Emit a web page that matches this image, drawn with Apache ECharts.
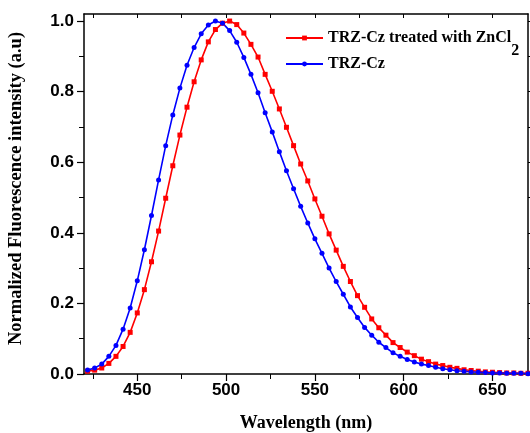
<!DOCTYPE html>
<html>
<head>
<meta charset="utf-8">
<script src="https://cdn.jsdelivr.net/npm/echarts@6/dist/echarts.min.js"></script>
<style>html,body{margin:0;padding:0;background:#fff}#c{width:530px;height:433px}</style>
</head>
<body>
<div id="c"></div>
<script>
const wavelength = [422,426,430,434,438,442,446,450,454,458,462,466,470,474,478,482,486,490,494,498,502,506,510,514,518,522,526,530,534,538,542,546,550,554,558,562,566,570,574,578,582,586,590,594,598,602,606,610,614,618,622,626,630,634,638,642,646,650,654,658,662,666,670];
const znValues = [0.008,0.011,0.017,0.030,0.050,0.078,0.118,0.173,0.239,0.318,0.405,0.498,0.590,0.677,0.756,0.828,0.890,0.941,0.976,0.994,1.000,0.990,0.966,0.934,0.898,0.849,0.801,0.751,0.699,0.647,0.595,0.547,0.496,0.447,0.397,0.351,0.305,0.262,0.222,0.189,0.156,0.131,0.110,0.089,0.075,0.062,0.052,0.042,0.035,0.028,0.024,0.019,0.016,0.012,0.010,0.008,0.006,0.005,0.004,0.003,0.003,0.002,0.002];
const czValues = [0.011,0.017,0.028,0.050,0.081,0.127,0.187,0.264,0.352,0.449,0.550,0.647,0.734,0.810,0.875,0.925,0.964,0.989,1.000,0.994,0.973,0.940,0.897,0.849,0.797,0.740,0.686,0.630,0.576,0.525,0.475,0.428,0.383,0.342,0.300,0.262,0.226,0.190,0.160,0.132,0.110,0.090,0.075,0.060,0.050,0.041,0.034,0.028,0.024,0.019,0.015,0.012,0.009,0.008,0.006,0.005,0.004,0.003,0.003,0.002,0.002,0.002,0.001];
const seriesNames = ['TRZ-Cz treated with ZnCl2', 'TRZ-Cz'];
const xMajorTicks = [450,500,550,600,650];
const xMinorTicks = [425,475,525,575,625];
const xTopTicks = [425,450,475,500,525,550,575,600,625,650];
const yMajorTicks = [0,0.2,0.4,0.6,0.8,1.0];
const yMinorTicks = [0.1,0.3,0.5,0.7,0.9];
const yRightTicks = [0,0.1,0.2,0.3,0.4,0.5,0.6,0.7,0.8,0.9,1.0];
const xTitle = 'Wavelength (nm)';
const yTitle = 'Normalized Fluorescence intensity (a.u)';

const X_MIN = 420, X_MAX = 670, Y_MIN = 0, Y_MAX = 1.02;
const lineC = '#000';
const labelFont = {fontFamily:'Liberation Sans', fontWeight:'bold', fontSize:17, color:'#000'};
const xTitleFont = {fontFamily:'Liberation Serif', fontWeight:'bold', fontSize:18, color:'#000'};
const yTitleFont = {fontFamily:'Liberation Serif', fontWeight:'bold', fontSize:18.5, color:'#000', padding:[0,0,0,11]};
const gridBox = {left:84, right:2, top:14, bottom:59, outerBoundsMode:'none', containLabel:false};
const legendFont = {fontFamily:'Liberation Serif', fontWeight:'bold', fontSize:16, color:'#000'};

function toPairs(xs, ys){ return xs.map((x,i)=>[x, ys[i]]); }

const chart = echarts.init(document.getElementById('c'), null, {renderer:'canvas'});
chart.setOption({
  animation:false,
  backgroundColor:'#fff',
  grid:[Object.assign({}, gridBox), Object.assign({}, gridBox)],
  legend:{
    data: seriesNames,
    orient:'vertical',
    left:280, top:25,
    itemWidth:37, itemHeight:6, itemGap:-3,
    textStyle:Object.assign({}, legendFont, {
      rich:{
        a:Object.assign({}, legendFont, {padding:[13,0,13,0]}),
        s:Object.assign({}, legendFont, {padding:[26,0,0,0]})
      }}),
    formatter: n => n.endsWith('ZnCl2') ? '{a|' + n.slice(0,-1) + '}{s|2}' : n
  },
  xAxis:[
    {gridIndex:0, type:'value', position:'bottom', min:X_MIN, max:X_MAX,
      name:xTitle, nameLocation:'middle', nameGap:40, nameTextStyle:xTitleFont,
      axisLine:{show:true, onZero:false, lineStyle:{color:lineC, width:1.5}},
      axisTick:{show:true, inside:false, length:7, customValues:xMajorTicks, lineStyle:{color:lineC, width:1.2}},
      axisLabel:{show:true, margin:8, customValues:xMajorTicks, ...labelFont, formatter:v=>String(v)},
      splitLine:{show:false}},
    {gridIndex:0, type:'value', position:'top', min:X_MIN, max:X_MAX,
      axisLine:{show:true, onZero:false, lineStyle:{color:lineC, width:1.5}},
      axisTick:{show:true, inside:true, length:4, customValues:xTopTicks, lineStyle:{color:lineC, width:1}},
      axisLabel:{show:false}, splitLine:{show:false}},
    {gridIndex:1, type:'value', position:'bottom', min:X_MIN, max:X_MAX,
      axisLine:{show:false},
      axisTick:{show:true, inside:false, length:5, customValues:xMinorTicks, lineStyle:{color:lineC, width:1}},
      axisLabel:{show:false}, splitLine:{show:false}}
  ],
  yAxis:[
    {gridIndex:0, type:'value', position:'left', min:Y_MIN, max:Y_MAX,
      name:yTitle, nameLocation:'middle', nameGap:58, nameTextStyle:yTitleFont,
      axisLine:{show:true, onZero:false, lineStyle:{color:lineC, width:1.5}},
      axisTick:{show:true, inside:false, length:7, customValues:yMajorTicks, lineStyle:{color:lineC, width:1.2}},
      axisLabel:{show:true, margin:10, customValues:yMajorTicks, ...labelFont, formatter:v=>v.toFixed(1)},
      splitLine:{show:false}},
    {gridIndex:0, type:'value', position:'right', min:Y_MIN, max:Y_MAX,
      axisLine:{show:true, onZero:false, lineStyle:{color:lineC, width:1.5}},
      axisTick:{show:true, inside:false, length:3.5, customValues:yRightTicks, lineStyle:{color:lineC, width:1}},
      axisLabel:{show:false}, splitLine:{show:false}},
    {gridIndex:1, type:'value', position:'left', min:Y_MIN, max:Y_MAX,
      axisLine:{show:false},
      axisTick:{show:true, inside:false, length:5, customValues:yMinorTicks, lineStyle:{color:lineC, width:1}},
      axisLabel:{show:false}, splitLine:{show:false}}
  ],
  series:[
    {name:seriesNames[0], type:'line', xAxisIndex:0, yAxisIndex:0, data:toPairs(wavelength, znValues),
      symbol:'rect', symbolSize:5, showSymbol:true, color:'#ff0000',
      lineStyle:{color:'#ff0000', width:1.6}, itemStyle:{color:'#ff0000'}},
    {name:seriesNames[1], type:'line', xAxisIndex:0, yAxisIndex:0, data:toPairs(wavelength, czValues),
      symbol:'circle', symbolSize:5, showSymbol:true, color:'#0000ff',
      lineStyle:{color:'#0000ff', width:1.6}, itemStyle:{color:'#0000ff'}}
  ]
});
</script>
</body>
</html>
